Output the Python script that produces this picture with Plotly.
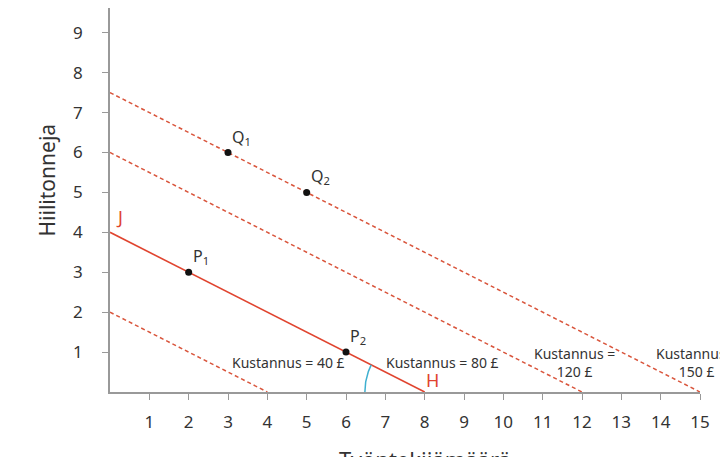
import numpy as np
import plotly.graph_objects as go

# budget lines (cost lines): y-intercept and x-intercept
y_start = [2, 4, 6, 7.5]
x_end = [4, 8, 12, 15]
solid = [False, True, False, False]

# labelled points
pt_names = ["P<sub>1</sub>", "P<sub>2</sub>", "Q<sub>1</sub>", "Q<sub>2</sub>"]
pt_x = [2, 6, 3, 5]
pt_y = [3, 1, 6, 5]

# cost label texts and places
cost_text = ["Kustannus = 40 £", "Kustannus = 80 £", "Kustannus =<br>120 £", "Kustannus =<br>150 £"]
cost_x = [4.53, 8.46, 11.8, 14.92]
cost_y = [0.73, 0.73, 0.75, 0.75]

x_ticks = list(range(1, 16))
y_ticks = list(range(1, 11))

RED = "#e0442f"
DASH_RED = "#d9553c"
TXT = "#333333"
FONT = "Noto Sans"

fig = go.Figure()

for i in range(len(y_start)):
    fig.add_trace(go.Scatter(
        x=[0, x_end[i]], y=[y_start[i], 0],
        mode="lines",
        line=dict(color=RED if solid[i] else DASH_RED,
                  width=1.6 if solid[i] else 1.5,
                  dash="solid" if solid[i] else "4px,3px"),
        hoverinfo="skip", showlegend=False,
    ))

# angle marker at H
h = x_end[1]
ang = np.arctan(y_start[1] / x_end[1])
t = np.linspace(0, ang, 30)
r = 1.52
fig.add_trace(go.Scatter(
    x=h - r * np.cos(t), y=r * np.sin(t),
    mode="lines", line=dict(color="#3fb0d0", width=1.5),
    hoverinfo="skip", showlegend=False,
))

fig.add_trace(go.Scatter(
    x=pt_x, y=pt_y, mode="markers",
    marker=dict(color="#111111", size=7),
    hoverinfo="skip", showlegend=False,
))

for n, x, y in zip(pt_names, pt_x, pt_y):
    fig.add_annotation(x=x, y=y, text=n, showarrow=False,
                       xanchor="left", yanchor="bottom", xshift=2, yshift=2,
                       font=dict(size=16, color=TXT, family=FONT))

for tx, x, y in zip(cost_text, cost_x, cost_y):
    fig.add_annotation(x=x, y=y, text=tx, showarrow=False,
                       font=dict(size=14, color=TXT, family=FONT))

fig.add_annotation(x=0, y=y_start[1], text="J", showarrow=False,
                   xanchor="left", yanchor="bottom", xshift=4, yshift=1,
                   font=dict(size=18, color=RED, family=FONT))
fig.add_annotation(x=h, y=0, text="H", showarrow=False,
                   xanchor="left", yanchor="bottom", xshift=-1, yshift=-2,
                   font=dict(size=18, color=RED, family=FONT))

fig.add_annotation(x=8, y=0, text="Työntekijämäärä", showarrow=False,
                   yanchor="top", yshift=-50,
                   font=dict(size=22, color=TXT, family=FONT))
fig.add_annotation(x=0, y=5.3, text="Hiilitonneja", showarrow=False,
                   textangle=-90, xanchor="center", xshift=-63,
                   font=dict(size=21, color=TXT, family=FONT))

fig.update_layout(
    width=720, height=449,
    margin=dict(l=102, r=28, t=0, b=65),
    plot_bgcolor="white", paper_bgcolor="white",
    font=dict(family=FONT, color=TXT),
    xaxis=dict(range=[0, 15], tickvals=x_ticks, showgrid=False, zeroline=False,
               showline=True, linecolor="#999999", linewidth=1.5,
               ticks="outside", ticklen=6, tickcolor="#999999", automargin=False,
               ticklabelstandoff=8, tickfont=dict(size=17, color=TXT)),
    yaxis=dict(range=[0, 9.62], tickvals=y_ticks, showgrid=False, zeroline=False,
               showline=True, linecolor="#999999", linewidth=1.5,
               ticks="outside", ticklen=6, tickcolor="#999999", automargin=False,
               ticklabelstandoff=16, tickfont=dict(size=17, color=TXT)),
)

fig.write_html("out.html")
